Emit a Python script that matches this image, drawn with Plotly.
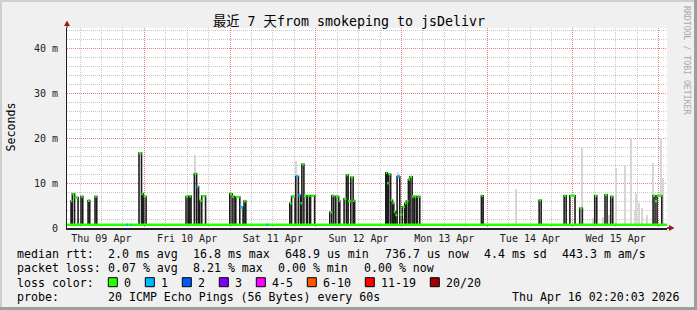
import plotly.graph_objects as go
import pandas as pd

# ---------------- data ----------------
t_start = "2026-04-09 02:20:03"
t_end = "2026-04-16 02:20:03"
baseline_ms = 0.7

seg_start = [
    "2026-04-09 03:28", "2026-04-09 03:50", "2026-04-09 04:27", "2026-04-09 06:16", "2026-04-09 08:14",
    "2026-04-09 10:11", "2026-04-09 18:57", "2026-04-09 20:11", "2026-04-09 22:30", "2026-04-09 23:12",
    "2026-04-09 23:49",
    "2026-04-10 11:40", "2026-04-10 12:36", "2026-04-10 14:00", "2026-04-10 14:37", "2026-04-10 15:30",
    "2026-04-10 16:04",
    "2026-04-10 23:55", "2026-04-11 00:34", "2026-04-11 01:36", "2026-04-11 02:43", "2026-04-11 03:55",
    "2026-04-11 10:10", "2026-04-11 16:43", "2026-04-11 17:13", "2026-04-11 18:24", "2026-04-11 19:07",
    "2026-04-11 19:44", "2026-04-11 20:06", "2026-04-11 20:40", "2026-04-11 21:42", "2026-04-11 22:32",
    "2026-04-12 03:55", "2026-04-12 04:29", "2026-04-12 05:36", "2026-04-12 06:23", "2026-04-12 07:55",
    "2026-04-12 08:34", "2026-04-12 09:03", "2026-04-12 09:48", "2026-04-12 10:27",
    "2026-04-12 19:36", "2026-04-12 19:58", "2026-04-12 20:23", "2026-04-12 20:57", "2026-04-12 21:27",
    "2026-04-12 21:50", "2026-04-12 22:17", "2026-04-12 22:46", "2026-04-12 23:31", "2026-04-13 00:15",
    "2026-04-13 00:55", "2026-04-13 01:22", "2026-04-13 01:56", "2026-04-13 02:24", "2026-04-13 02:58",
    "2026-04-13 03:37", "2026-04-13 04:27", "2026-04-13 22:22",
    "2026-04-14 14:32", "2026-04-14 21:32", "2026-04-14 23:08",
    "2026-04-15 01:54", "2026-04-15 06:06", "2026-04-15 08:59", "2026-04-15 10:35", "2026-04-15 22:26",
    "2026-04-15 22:59", "2026-04-15 23:33",
]
seg_end = [
    "2026-04-09 03:50", "2026-04-09 04:27", "2026-04-09 05:26", "2026-04-09 06:45", "2026-04-09 08:42",
    "2026-04-09 10:40", "2026-04-09 19:26", "2026-04-09 20:33", "2026-04-09 23:12", "2026-04-09 23:38",
    "2026-04-10 00:29",
    "2026-04-10 12:14", "2026-04-10 13:04", "2026-04-10 14:37", "2026-04-10 15:10", "2026-04-10 16:04",
    "2026-04-10 17:08",
    "2026-04-11 00:34", "2026-04-11 01:07", "2026-04-11 02:43", "2026-04-11 03:38", "2026-04-11 04:24",
    "2026-04-11 10:43", "2026-04-11 17:13", "2026-04-11 18:12", "2026-04-11 19:07", "2026-04-11 19:44",
    "2026-04-11 20:06", "2026-04-11 20:40", "2026-04-11 21:25", "2026-04-11 22:19", "2026-04-11 23:40",
    "2026-04-12 04:29", "2026-04-12 05:02", "2026-04-12 06:23", "2026-04-12 06:43", "2026-04-12 08:34",
    "2026-04-12 09:03", "2026-04-12 09:48", "2026-04-12 10:27", "2026-04-12 10:52",
    "2026-04-12 19:58", "2026-04-12 20:23", "2026-04-12 20:57", "2026-04-12 21:27", "2026-04-12 21:50",
    "2026-04-12 22:17", "2026-04-12 22:46", "2026-04-12 23:31", "2026-04-13 00:15", "2026-04-13 00:55",
    "2026-04-13 01:22", "2026-04-13 01:56", "2026-04-13 02:24", "2026-04-13 02:58", "2026-04-13 03:28",
    "2026-04-13 04:10", "2026-04-13 05:07", "2026-04-13 22:51",
    "2026-04-14 15:06", "2026-04-14 22:06", "2026-04-15 00:35",
    "2026-04-15 02:38", "2026-04-15 06:40", "2026-04-15 09:33", "2026-04-15 11:09", "2026-04-15 22:59",
    "2026-04-15 23:33", "2026-04-16 00:52",
]
seg_ms = [
    6.0, 7.6, 6.8, 7.0, 6.1, 7.0, 0.7, 0.7, 16.7, 7.6, 7.0,
    7.0, 7.1, 12.1, 9.2, 6.1, 7.1,
    7.6, 7.0, 6.9, 4.6, 6.0, 0.7, 5.5, 7.0, 11.5, 7.3, 5.5, 14.2, 7.2, 7.2, 7.2,
    3.5, 7.2, 7.0, 6.0, 6.5, 11.8, 6.0, 11.3, 6.1,
    12.3, 10.0, 12.0, 6.2, 5.5, 3.6, 2.9, 11.5, 3.0, 4.7, 5.5, 6.0, 10.8, 11.4, 7.0, 7.0, 7.0, 7.2,
    6.2, 7.2, 7.2,
    4.4, 7.2, 7.4, 7.0, 7.2, 6.0, 7.2,
]
seg_loss = [
    0, 0, 0, 0, 0, 0, 1, 1, 0, 0, 0,
    0, 0, 0, 1, 0, 0,
    0, 0, 0, 1, 0, 1, 0, 0, 1, 1, 0, 0, 0, 0, 0,
    0, 0, 0, 0, 0, 0, 0, 0, 0,
    0, 0, 0, 0, 0, 0, 0, 1, 0, 0, 0, 0, 0, 0, 0, 0, 0, 0,
    0, 0, 0,
    0, 0, 0, 0, 0, 0, 0,
]

smoke_time = [
    "2026-04-10 14:12", "2026-04-11 18:37", "2026-04-12 23:03", "2026-04-14 08:05", "2026-04-15 02:33",
    "2026-04-15 05:38", "2026-04-15 08:26", "2026-04-15 10:06", "2026-04-15 12:04", "2026-04-15 14:35",
    "2026-04-15 16:16", "2026-04-15 17:23", "2026-04-15 17:48", "2026-04-15 18:30", "2026-04-15 19:21",
    "2026-04-15 20:45", "2026-04-15 22:26", "2026-04-16 00:40", "2026-04-16 01:22",
]
smoke_lo = [12.1, 11.5, 11.5, 0.7, 0.7, 0.7, 0.7, 0.7, 0.7, 0.7,
            0.7, 0.7, 0.7, 0.7, 0.7, 0.7, 7.2, 7.2, 0.7]
smoke_hi = [16.3, 15.0, 12.6, 8.7, 17.8, 2.2, 2.5, 2.9, 13.3, 14.0,
            20.1, 4.0, 7.7, 5.5, 4.4, 2.8, 14.4, 20.0, 11.2]

loss_labels = ["0", "1", "2", "3", "4-5", "6-10", "11-19", "20/20"]
loss_colors = ["#26ff00", "#00b8ff", "#0059ff", "#7e00ff", "#ff00ff", "#ff5500", "#ff0000", "#a10000"]

# major x grid at each midnight; each day's label sits half a day to the left of the grid line
day_lines = ["2026-04-10", "2026-04-11", "2026-04-12", "2026-04-13", "2026-04-14", "2026-04-15", "2026-04-16"]
day_labels = ["Thu 09 Apr", "Fri 10 Apr", "Sat 11 Apr", "Sun 12 Apr", "Mon 13 Apr", "Tue 14 Apr", "Wed 15 Apr"]
ytick_vals = [0, 10, 20, 30, 40]
ytick_text = ["0", "10 m", "20 m", "30 m", "40 m"]
y_top = 44.6

title_text = "最近 7 天from smokeping to jsDelivr"
rtt_label = "median rtt:"
rtt_items = ["2.0 ms avg", "16.8 ms max", "648.9 us min", "736.7 us now", "4.4 ms sd", "443.3 m am/s"]
loss_label = "packet loss:"
loss_items = ["0.07 % avg", "8.21 % max", "0.00 % min", "0.00 % now"]
color_label = "loss color:"
probe_label = "probe:"
probe_text = "20 ICMP Echo Pings (56 Bytes) every 60s"
stamp_text = "Thu Apr 16 02:20:03 2026"

# ---------------- geometry helpers (pixel -> paper) ----------------
W, H = 697, 310
L, R, T, B = 67, 667, 28, 228
CH = 6.985      # monospace advance at 11.6px
GLUE = 15.5     # gap between legend items


def px(x):
    return (x - L) / (R - L)


def py(y):
    return (B - y) / (B - T)


MONO = "DejaVu Sans Mono"
MAJOR = "rgba(232,110,110,0.9)"
MINOR = "rgba(160,160,160,0.6)"

fig = go.Figure()

t0 = pd.Timestamp(t_start)
t1 = pd.Timestamp(t_end)
half_day_px = int(round((R - L) * 12 / ((t1 - t0).total_seconds() / 3600)))

# smoke
bar_w = 24 * 60 * 1000
fig.add_trace(go.Bar(
    x=pd.to_datetime(smoke_time), y=[h - l for h, l in zip(smoke_hi, smoke_lo)], base=smoke_lo,
    width=[bar_w] * len(smoke_time), marker=dict(color="#d6d6d6", line=dict(width=0)),
    hoverinfo="skip"))

# median step line (dark verticals)
starts = pd.to_datetime(seg_start)
ends = pd.to_datetime(seg_end)
xs, ys = [t0], [baseline_ms]
for s, e, v in zip(starts, ends, seg_ms):
    xs += [s, e]
    ys += [v, baseline_ms]
xs.append(t1)
ys.append(baseline_ms)
fig.add_trace(go.Scatter(x=xs, y=ys, mode="lines", line=dict(color="#1c1c1c", width=1.6, shape="hv"),
                         hoverinfo="skip"))

# baseline in loss colour 0
fig.add_trace(go.Scatter(x=[t0, t1], y=[baseline_ms, baseline_ms], mode="lines",
                         line=dict(color=loss_colors[0], width=2.5), hoverinfo="skip"))

# horizontal median segments coloured by loss
for li in sorted(set(seg_loss)):
    sx, sy = [], []
    for s, e, v, lo in zip(starts, ends, seg_ms, seg_loss):
        if lo == li:
            sx += [s, e, None]
            sy += [v, v, None]
    fig.add_trace(go.Scatter(x=sx, y=sy, mode="lines", line=dict(color=loss_colors[li], width=2.5),
                             hoverinfo="skip", connectgaps=False))

x_minor = [d for d in pd.date_range("2026-04-09 06:00", "2026-04-16 00:00", freq="6h") if d.hour != 0]
y_minor = [v for v in range(2, 45, 2) if v % 10 != 0]

fig.update_layout(
    width=W, height=H, margin=dict(l=L, r=W - R, t=T, b=H - B),
    paper_bgcolor="#F0F0F0", plot_bgcolor="#FFFFFF", showlegend=False, bargap=0,
    font=dict(family=MONO, color="#000000"),
    xaxis=dict(
        type="date", range=[t0, t1], tickmode="array", tickvals=pd.to_datetime(day_lines),
        ticktext=day_labels, ticklabelshift=-half_day_px, ticks="",
        showgrid=True, gridcolor=MAJOR, griddash="1px,1px", gridwidth=1,
        minor=dict(tickmode="array", tickvals=x_minor, showgrid=True, gridcolor=MINOR,
                   griddash="1px,1px", gridwidth=1),
        showline=True, linecolor="#202020", linewidth=1.5, zeroline=False,
        tickfont=dict(family=MONO, size=10, color="#202020"), ticklabelstandoff=0,
    ),
    yaxis=dict(
        range=[0, y_top], tickmode="array", tickvals=ytick_vals, ticktext=ytick_text, ticks="",
        showgrid=True, gridcolor=MAJOR, griddash="1px,1px", gridwidth=1,
        minor=dict(tickmode="array", tickvals=y_minor, showgrid=True, gridcolor=MINOR,
                   griddash="1px,1px", gridwidth=1),
        showline=True, linecolor="#202020", linewidth=1, zeroline=False,
        tickfont=dict(family=MONO, size=10, color="#202020"), ticklabelstandoff=6,
    ),
)

shapes = []
# frame shading
shapes.append(dict(type="rect", xref="paper", yref="paper", x0=px(0), x1=px(W), y0=py(0), y1=py(2),
                   fillcolor="#CFCFCF", line=dict(width=0), layer="above"))
shapes.append(dict(type="rect", xref="paper", yref="paper", x0=px(0), x1=px(2), y0=py(0), y1=py(H),
                   fillcolor="#CFCFCF", line=dict(width=0), layer="above"))
shapes.append(dict(type="rect", xref="paper", yref="paper", x0=px(0), x1=px(W), y0=py(H - 3), y1=py(H),
                   fillcolor="#9E9E9E", line=dict(width=0), layer="above"))
shapes.append(dict(type="rect", xref="paper", yref="paper", x0=px(W - 3), x1=px(W), y0=py(0), y1=py(H),
                   fillcolor="#9E9E9E", line=dict(width=0), layer="above"))
# axis extensions + arrows
shapes.append(dict(type="line", xref="paper", yref="paper", x0=px(L), x1=px(L), y0=py(T), y1=py(24),
                   line=dict(color="#202020", width=1)))
shapes.append(dict(type="line", xref="paper", yref="paper", x0=px(R), x1=px(670), y0=py(B), y1=py(B),
                   line=dict(color="#202020", width=1.5)))
shapes.append(dict(type="path", xref="paper", yref="paper",
                   path=f"M {px(64)} {py(26)} L {px(70)} {py(26)} L {px(67)} {py(20.5)} Z",
                   fillcolor="#a01818", line=dict(width=0)))
shapes.append(dict(type="path", xref="paper", yref="paper",
                   path=f"M {px(669)} {py(225)} L {px(669)} {py(231)} L {px(674.5)} {py(228)} Z",
                   fillcolor="#a01818", line=dict(width=0)))

NB = "\u00a0"


def nb(s):
    return s.replace(" ", NB)


ann = []


def txt(s, x, y, anchor="left", size=11.6, color="#000000", angle=0, family=MONO):
    ann.append(dict(text=nb(s), x=px(x), y=py(y), xref="paper", yref="paper", xanchor=anchor,
                    yanchor="middle", showarrow=False, textangle=angle, borderpad=0,
                    font=dict(family=family, size=size, color=color)))


# loss colour legend boxes
bx = 108.3
for lab, col in zip(loss_labels, loss_colors):
    shapes.append(dict(type="rect", xref="paper", yref="paper", x0=px(bx), x1=px(bx + 9),
                       y0=py(277.7), y1=py(286.7), fillcolor=col, line=dict(color="#000000", width=1)))
    txt(lab, bx + 14.3, 282.5)
    bx += 30 + 7 * len(lab)

txt(title_text, 348.5, 22, anchor="center", size=13.3, family=MONO + ", Noto Sans CJK SC")
txt("Seconds", 10.5, 127, anchor="center", angle=-90)
txt("RRDTOOL / TOBI OETIKER", 687, 60, anchor="center", size=8.2, color="#a8a8a8", angle=90)

# legend rows: items laid out left to right with a fixed glue gap
row_y = [254.3, 268.4, 282.5, 296.6]
VAL_X = 106.5


def row(label, items, y):
    txt(label, 15.5, y)
    x = VAL_X
    for s in items:
        txt(s, x, y)
        x += len(s) * CH + GLUE


row(rtt_label, rtt_items, row_y[0])
row(loss_label, loss_items, row_y[1])
txt(color_label, 15.5, row_y[2])
txt(probe_label, 15.5, row_y[3])
txt(probe_text, VAL_X, row_y[3])
txt(stamp_text, 680.5, row_y[3], anchor="right")

fig.update_layout(shapes=shapes, annotations=ann)
fig.write_html("out.html")
